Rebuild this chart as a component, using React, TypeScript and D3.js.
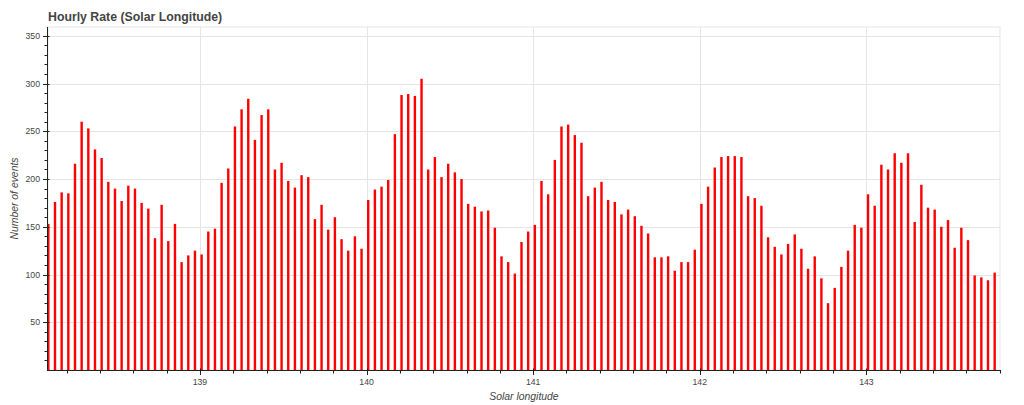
import React from "react";
import * as d3 from "d3";

const TITLE = "Hourly Rate (Solar Longitude)";
const X_LABEL = "Solar longitude";
const Y_LABEL = "Number of events";

// hourly bins: first bin centre and bin width (degrees of solar longitude)
const FIRST_LON = 138.09;
const BIN_STEP = 0.04;

const COUNTS: number[] = [
  153, 176, 186, 185, 216, 260, 253, 231, 222, 197,
  190, 177, 193, 190, 175, 169, 138, 173, 135, 153,
  113, 120, 125, 121, 145, 148, 196, 211, 255, 273,
  284, 241, 267, 273, 210, 217, 198, 191, 204, 202,
  158, 173, 147, 160, 137, 125, 140, 127, 178, 189,
  192, 199, 247, 288, 289, 287, 305, 210, 223, 202,
  216, 207, 200, 174, 171, 166, 167, 149, 119, 113,
  101, 134, 145, 152, 198, 184, 220, 255, 257, 246,
  238, 182, 191, 197, 178, 176, 163, 168, 161, 151,
  143, 118, 118, 119, 104, 113, 113, 126, 174, 192,
  212, 223, 224, 224, 223, 182, 180, 172, 139, 129,
  121, 132, 142, 127, 106, 119, 96, 70, 86, 108,
  125, 152, 149, 184, 172, 215, 210, 227, 217, 227,
  155, 194, 170, 168, 150, 157, 128, 149, 136, 99,
  97, 94, 102,
];

const X_MAJOR_TICKS = [139, 140, 141, 142, 143];
const Y_MAJOR_TICKS = [50, 100, 150, 200, 250, 300, 350];

const W = 1024;
const H = 405;
const LEFT = 48;
const RIGHT = 1000;
const TOP = 27;
const BOTTOM = 370;

export default function App() {
  const x = d3.scaleLinear().domain([138.088, 143.802]).range([LEFT, RIGHT]);
  const y = d3.scaleLinear().domain([0, 359.2]).range([BOTTOM, TOP]);
  const lons = COUNTS.map((_, i) => FIRST_LON + BIN_STEP * i);
  const barW = (x(FIRST_LON + BIN_STEP) - x(FIRST_LON)) * 0.36;

  const xMinor = d3.range(138.2, 143.81, 0.2).map((v) => +v.toFixed(2)).filter((v) => x(v) >= LEFT && x(v) <= RIGHT + 0.5);
  const yMinor = d3.range(10, 360, 10).filter((v) => v % 50 !== 0);

  const font = "'Liberation Sans', Arial, Helvetica, sans-serif";

  return (
    <svg width={W} height={H} style={{ position: "absolute", left: 0, top: 0, background: "#fff" }} fontFamily={font}>
      <defs>
        <clipPath id="plotclip">
          <rect x={LEFT} y={TOP} width={RIGHT - LEFT} height={BOTTOM - TOP} />
        </clipPath>
      </defs>
      {/* frame outline */}
      <rect x={LEFT} y={TOP} width={RIGHT - LEFT} height={BOTTOM - TOP} fill="none" stroke="#e5e5e5" strokeWidth={1} />
      {/* grid */}
      {X_MAJOR_TICKS.map((t) => (
        <line key={"gx" + t} x1={Math.round(x(t)) + 0.5} x2={Math.round(x(t)) + 0.5} y1={TOP} y2={BOTTOM} stroke="#e5e5e5" />
      ))}
      {Y_MAJOR_TICKS.map((t) => (
        <line key={"gy" + t} x1={LEFT} x2={RIGHT} y1={Math.round(y(t)) + 0.5} y2={Math.round(y(t)) + 0.5} stroke="#e5e5e5" />
      ))}
      {/* bars */}
      <g clipPath="url(#plotclip)">
        {COUNTS.map((c, i) => (
          <rect key={i} x={x(lons[i]) - barW / 2} y={y(c)} width={barW} height={y(0) - y(c)} fill="#ff0000" />
        ))}
      </g>
      {/* y axis */}
      <line x1={LEFT - 0.5} x2={LEFT - 0.5} y1={TOP} y2={BOTTOM + 1} stroke="#222" strokeWidth={1} />
      {yMinor.map((t) => (
        <line key={"ym" + t} x1={LEFT - 3.5} x2={LEFT} y1={Math.round(y(t)) + 0.5} y2={Math.round(y(t)) + 0.5} stroke="#222" />
      ))}
      {Y_MAJOR_TICKS.map((t) => (
        <g key={"yt" + t}>
          <line x1={LEFT - 5} x2={LEFT + 1.5} y1={Math.round(y(t)) + 0.5} y2={Math.round(y(t)) + 0.5} stroke="#222" />
          <text x={40} y={y(t)} dy="0.35em" textAnchor="end" fontSize={8.7} fill="#444">{t}</text>
        </g>
      ))}
      {/* x axis */}
      <line x1={LEFT - 1} x2={RIGHT} y1={BOTTOM + 0.5} y2={BOTTOM + 0.5} stroke="#222" strokeWidth={1} />
      {xMinor.map((t) => (
        <line key={"xm" + t} x1={Math.round(x(t)) + 0.5} x2={Math.round(x(t)) + 0.5} y1={BOTTOM} y2={BOTTOM + 3.5} stroke="#222" />
      ))}
      {X_MAJOR_TICKS.map((t) => (
        <g key={"xt" + t}>
          <line x1={Math.round(x(t)) + 0.5} x2={Math.round(x(t)) + 0.5} y1={BOTTOM - 1.5} y2={BOTTOM + 5} stroke="#222" />
          <text x={x(t)} y={385} textAnchor="middle" fontSize={8.7} fill="#444">{t}</text>
        </g>
      ))}
      {/* labels */}
      <text x={(LEFT + RIGHT) / 2} y={400} textAnchor="middle" fontSize={10.4} fontStyle="italic" fill="#444">{X_LABEL}</text>
      <text transform={`translate(18, ${(TOP + BOTTOM) / 2}) rotate(-90)`} textAnchor="middle" fontSize={10.4} fontStyle="italic" fill="#444">{Y_LABEL}</text>
      <text x={LEFT} y={20.5} fontSize={12.3} fontWeight="bold" fill="#444">{TITLE}</text>
    </svg>
  );
}
